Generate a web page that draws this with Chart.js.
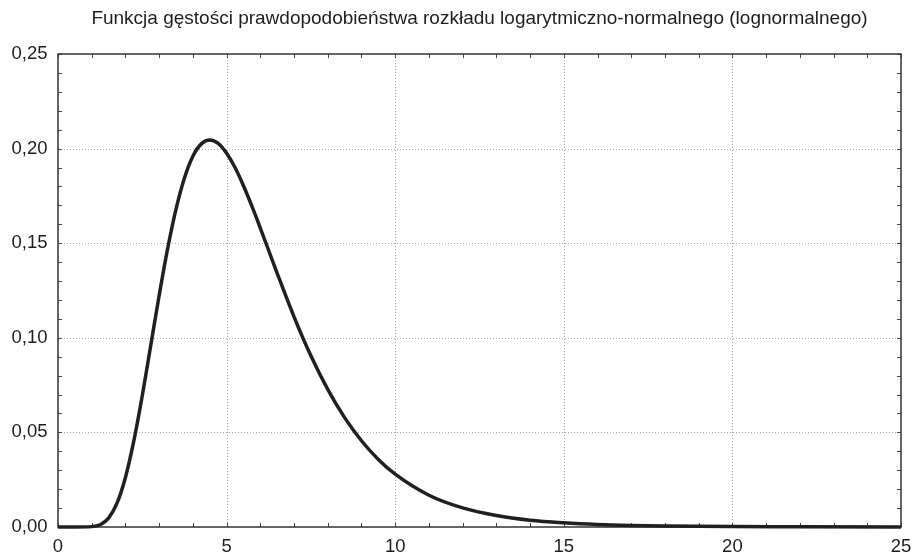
<!DOCTYPE html>
<html>
<head>
<meta charset="utf-8">
<script src="https://cdn.jsdelivr.net/npm/chart.js@4/dist/chart.umd.min.js"></script>
<style>
  html, body { margin: 0; padding: 0; background: #fff; }
  #wrap { width: 913px; height: 555px; position: relative; }
</style>
</head>
<body>
<div id="wrap"><canvas id="c" width="913" height="555"></canvas></div>
<script>
// ---- data ----
const titleText = "Funkcja gęstości prawdopodobieństwa rozkładu logarytmiczno-normalnego (lognormalnego)";
const xValues = [0, 0.5, 1, 1.25, 1.5, 1.75, 2, 2.25, 2.5, 2.75, 3, 3.25, 3.5, 3.75, 4, 4.25, 4.5, 4.75, 5, 5.25, 5.5, 5.75, 6, 6.5, 7, 7.5, 8, 8.5, 9, 9.5, 10, 11, 12, 13, 14, 15, 16, 17, 18, 20, 22, 25];
const densityValues = [0, 0, 0.0002, 0.0012, 0.0047, 0.0126, 0.0262, 0.0456, 0.0695, 0.0959, 0.1224, 0.1470, 0.1680, 0.1845, 0.1960, 0.2025, 0.2046, 0.2028, 0.1976, 0.1900, 0.1804, 0.1696, 0.1580, 0.1341, 0.1111, 0.0905, 0.0727, 0.0578, 0.0456, 0.0357, 0.0279, 0.0168, 0.0101, 0.0061, 0.0036, 0.0022, 0.0013, 0.0008, 0.0005, 0.0002, 0.0001, 0.00003];
const xTickValues = [0, 5, 10, 15, 20, 25];
const yTickValues = [0, 0.05, 0.10, 0.15, 0.20, 0.25];
const xMinorStep = 1;
const yMinorStep = 0.01;

const points = xValues.map((x, i) => ({ x: x, y: densityValues[i] }));

const framePlugin = {
  id: 'frame',
  beforeDatasetsDraw(chart) {
    const ctx = chart.ctx;
    const xs = chart.scales.x, ys = chart.scales.y;
    const { left, right, top, bottom } = chart.chartArea;
    ctx.save();
    // dotted grid lines at inner major ticks
    ctx.strokeStyle = '#a8a8a8';
    ctx.lineWidth = 1;
    ctx.setLineDash([1, 2]);
    xTickValues.slice(1, -1).forEach(v => {
      const px = Math.round(xs.getPixelForValue(v)) + 0.5;
      ctx.beginPath(); ctx.moveTo(px, top); ctx.lineTo(px, bottom); ctx.stroke();
    });
    yTickValues.slice(1, -1).forEach(v => {
      const py = Math.round(ys.getPixelForValue(v)) + 0.5;
      ctx.beginPath(); ctx.moveTo(left, py); ctx.lineTo(right, py); ctx.stroke();
    });
    ctx.setLineDash([]);
    // minor tick marks (inside, on all four sides)
    ctx.strokeStyle = '#444';
    ctx.lineWidth = 1;
    const tl = 4;
    for (let v = 0; v <= 25 + 1e-9; v += xMinorStep) {
      const px = Math.round(xs.getPixelForValue(v)) + 0.5;
      ctx.beginPath(); ctx.moveTo(px, bottom); ctx.lineTo(px, bottom - tl); ctx.stroke();
      ctx.beginPath(); ctx.moveTo(px, top); ctx.lineTo(px, top + tl); ctx.stroke();
    }
    for (let k = 0; k <= 25; k++) {
      const py = Math.round(ys.getPixelForValue(k * yMinorStep)) + 0.5;
      ctx.beginPath(); ctx.moveTo(left, py); ctx.lineTo(left + tl, py); ctx.stroke();
      ctx.beginPath(); ctx.moveTo(right, py); ctx.lineTo(right - tl, py); ctx.stroke();
    }
    // frame
    ctx.strokeStyle = '#333';
    ctx.lineWidth = 1.5;
    ctx.strokeRect(left, top, right - left, bottom - top);
    ctx.restore();
  }
};

new Chart(document.getElementById('c'), {
  type: 'line',
  data: {
    datasets: [{
      data: points,
      borderColor: '#231f20',
      borderWidth: 3.5,
      pointRadius: 0,
      fill: false,
      cubicInterpolationMode: 'monotone',
      clip: false
    }]
  },
  options: {
    responsive: false,
    animation: false,
    devicePixelRatio: 1,
    layout: { padding: { left: 0, right: 12, top: 0, bottom: 0 } },
    plugins: {
      legend: { display: false },
      tooltip: { enabled: false },
      title: {
        display: true,
        text: titleText,
        fullSize: false,
        color: '#1e1e1e',
        font: { family: 'Liberation Sans, Arial, sans-serif', size: 19, weight: 'normal' },
        padding: { top: 7, bottom: 24.2 }
      }
    },
    scales: {
      x: {
        type: 'linear',
        min: 0, max: 25,
        afterBuildTicks(scale) { scale.ticks = xTickValues.map(v => ({ value: v })); },
        afterFit(scale) { scale.height = 28; scale.paddingLeft = 0; scale.paddingRight = 0; },
        grid: { display: false, drawTicks: false },
        border: { display: false },
        ticks: {
          color: '#1e1e1e',
          padding: 9,
          maxRotation: 0,
          autoSkip: false,
          font: { family: 'Liberation Sans, Arial, sans-serif', size: 18.5 },
          callback: v => String(v)
        }
      },
      y: {
        type: 'linear',
        min: 0, max: 0.25,
        afterBuildTicks(scale) { scale.ticks = yTickValues.map(v => ({ value: v })); },
        afterFit(scale) { scale.width = 58; scale.paddingTop = 0; scale.paddingBottom = 0; },
        grid: { display: false, drawTicks: false },
        border: { display: false },
        ticks: {
          color: '#1e1e1e',
          padding: 10.5,
          autoSkip: false,
          font: { family: 'Liberation Sans, Arial, sans-serif', size: 18.5 },
          callback: v => v.toFixed(2).replace('.', ',')
        }
      }
    }
  },
  plugins: [framePlugin]
});
</script>
</body>
</html>
